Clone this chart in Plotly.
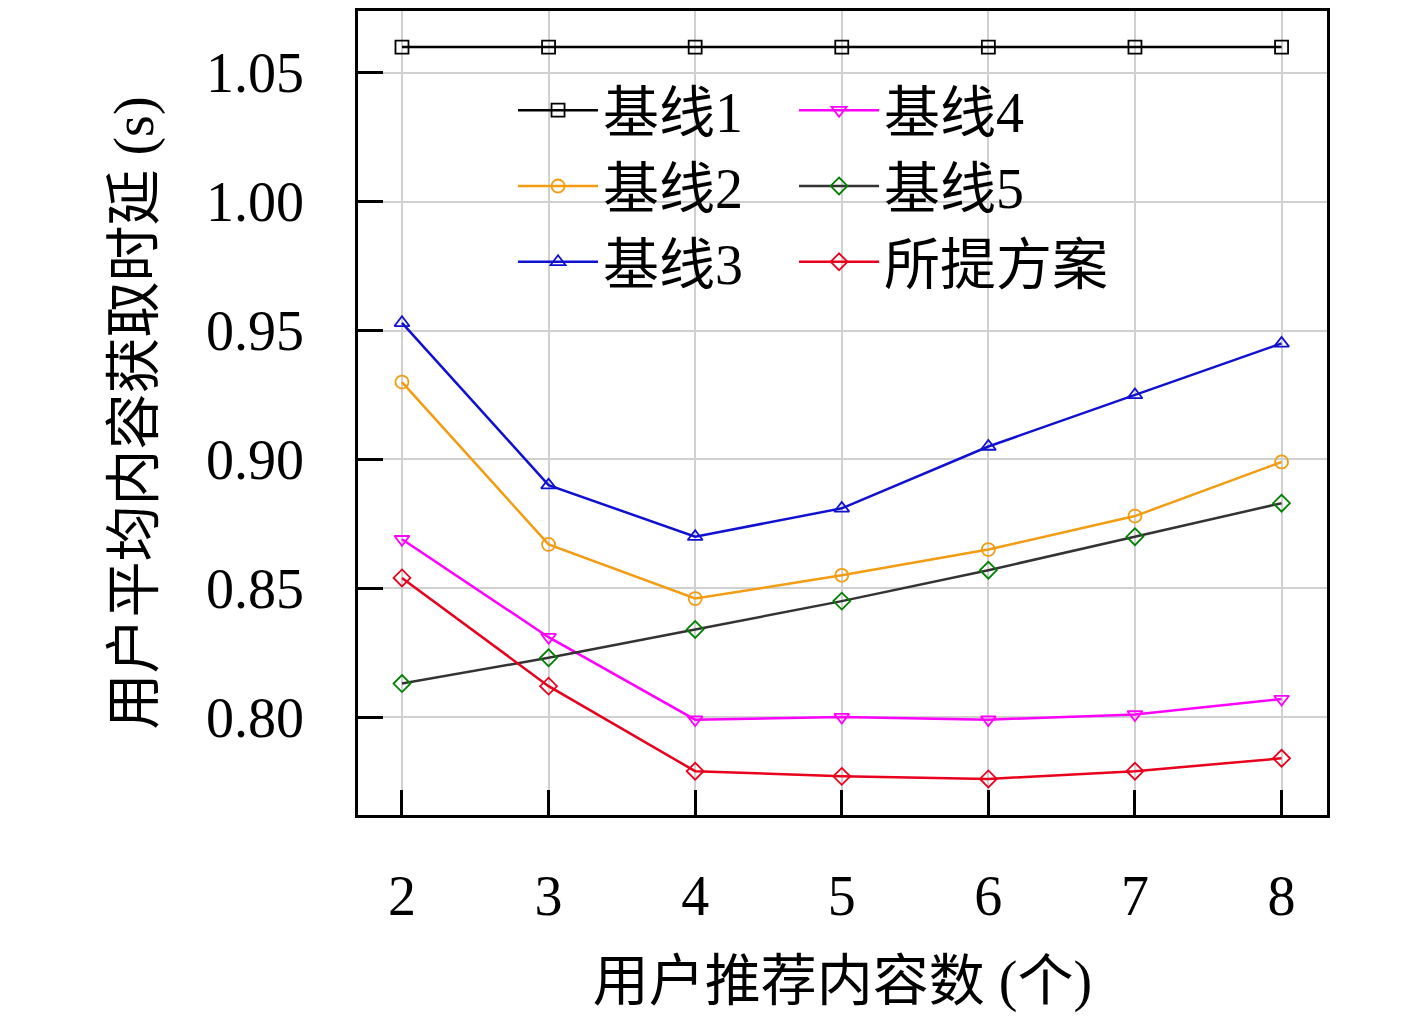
import plotly.graph_objects as go

# Data
x_vals = [2, 3, 4, 5, 6, 7, 8]
baseline1 = [1.060, 1.060, 1.060, 1.060, 1.060, 1.060, 1.060]
baseline2 = [0.930, 0.867, 0.846, 0.855, 0.865, 0.878, 0.899]
baseline3 = [0.953, 0.890, 0.870, 0.881, 0.905, 0.925, 0.945]
baseline4 = [0.869, 0.831, 0.799, 0.800, 0.799, 0.801, 0.807]
baseline5 = [0.813, 0.823, 0.834, 0.845, 0.857, 0.870, 0.883]
proposed = [0.854, 0.812, 0.779, 0.777, 0.776, 0.779, 0.784]

series = [
    ('基线1', baseline1, 'black', 'square-open', 'legend'),
    ('基线2', baseline2, '#f39c12', 'circle-open', 'legend'),
    ('基线3', baseline3, '#1010d0', 'triangle-up-open', 'legend'),
    ('基线4', baseline4, '#ff00ff', 'triangle-down-open', 'legend2'),
    ('基线5', baseline5, '#333333', 'diamond-open', 'legend2'),
    ('所提方案', proposed, '#e8001c', 'diamond-open', 'legend2'),
]
marker_colors = {'基线5': 'green'}

font_main = "Liberation Serif, Noto Sans CJK SC"

fig = go.Figure()
for name, ys, color, sym, leg in series:
    fig.add_trace(go.Scatter(
        x=x_vals, y=ys, mode='lines+markers', name=name, legend=leg,
        line=dict(color=color, width=2.5),
        marker=dict(symbol=sym, size=13, color=marker_colors.get(name, color),
                    line=dict(width=1.8, color=marker_colors.get(name, color)))
    ))

legend_style = dict(font=dict(size=56, family=font_main, color='black'),
                    bgcolor='rgba(0,0,0,0)', tracegroupgap=0,
                    xanchor='left', yanchor='top', itemwidth=80)

fig.update_layout(
    width=1417, height=1035,
    plot_bgcolor='white', paper_bgcolor='white',
    margin=dict(l=350, r=98, t=0, b=228),
    font=dict(family=font_main, size=54, color='black'),
    legend=dict(x=0.16, y=0.93, **legend_style),
    legend2=dict(x=0.45, y=0.93, **legend_style),
    xaxis=dict(
        range=[1.70, 8.31], tickvals=x_vals, ticks='inside', ticklen=25,
        tickcolor='black', tickwidth=2.5,
        showgrid=True, gridcolor='#d0d0d0', gridwidth=1.5,
        showline=True, linecolor='black', linewidth=2.5, mirror=True,
        ticklabelstandoff=30, tickfont=dict(size=56),
        title=dict(text='用户推荐内容数 (个)', font=dict(size=56), standoff=35),
    ),
    yaxis=dict(
        range=[0.762, 1.074], tickvals=[0.80, 0.85, 0.90, 0.95, 1.00, 1.05],
        tickformat='.2f', ticks='inside', ticklen=25, tickcolor='black', tickwidth=2.5,
        showgrid=True, gridcolor='#d0d0d0', gridwidth=1.5,
        showline=True, linecolor='black', linewidth=2.5, mirror=True,
        ticklabelstandoff=40, tickfont=dict(size=56),
        title=dict(text='用户平均内容获取时延 (s)', font=dict(size=56), standoff=35),
    ),
)

fig.write_html("out.html")
